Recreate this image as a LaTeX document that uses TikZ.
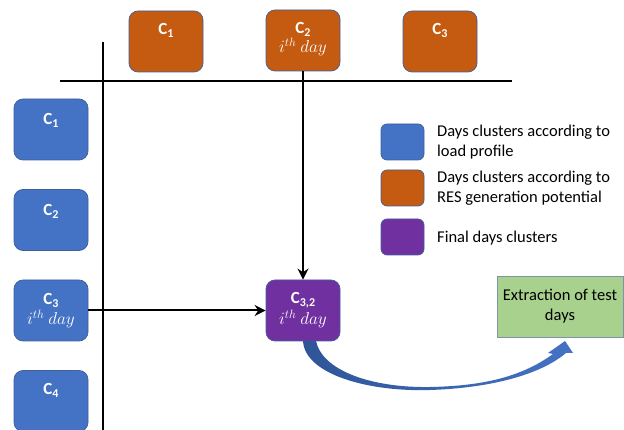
\documentclass[tikz,border=0pt]{standalone}
\usepackage{fontspec}
\setmainfont{Carlito}
\usetikzlibrary{arrows.meta}
\definecolor{cblue}{HTML}{4472C4}
\definecolor{corange}{HTML}{C55A11}
\definecolor{cpurple}{HTML}{7030A0}
\definecolor{cgreen}{HTML}{A9D18E}
\definecolor{cborder}{HTML}{41609A}
\definecolor{gborder}{HTML}{7F93A8}
\definecolor{dblue}{HTML}{2F5597}
\newcommand{\csub}[2]{#1\raisebox{-3pt}{\fontsize{12}{12}\selectfont #2}}
\tikzset{
  cl/.style={draw=cborder, line width=0.7pt, rounded corners=9pt, minimum width=74pt, minimum height=61pt, inner sep=0pt},
  bluebox/.style={cl, fill=cblue},
  orangebox/.style={cl, fill=corange},
  purplebox/.style={cl, fill=cpurple},
  legbox/.style={draw=cborder, line width=0.7pt, rounded corners=6pt, minimum width=43pt, minimum height=36pt, inner sep=0pt},
  lbl/.style={text=white, font=\fontsize{17}{18}\selectfont\bfseries, inner sep=0pt},
  ith/.style={text=white, font=\fontsize{17}{18}\selectfont, inner sep=0pt},
  legtxt/.style={anchor=west, align=left, font=\fontsize{16.5}{20}\selectfont, inner sep=0pt},
  axis/.style={line width=2.2pt, black},
  conn/.style={line width=2pt, black, -{Stealth[length=11pt,width=11pt]}}
}
\begin{document}
\begin{tikzpicture}[x=1pt,y=-1pt]
\useasboundingbox (0,0) rectangle (624,430);
% axes
\draw[axis] (60,81) -- (512,81);
\draw[axis] (103,42) -- (103,432);
% orange boxes
\node[orangebox] (o1) at (166,41.5) {};
\node[orangebox] (o2) at (303,40.5) {};
\node[orangebox] (o3) at (440,41.5) {};
\node[lbl] at (166,30) {\csub{C}{1}};
\node[lbl] at (303,29) {\csub{C}{2}};
\node[ith] at (303,47) {$i^{th}\ day$};
\node[lbl] at (440,30) {\csub{C}{3}};
% blue boxes
\node[bluebox] (b1) at (51,129.5) {};
\node[bluebox] (b2) at (51,220) {};
\node[bluebox] (b3) at (51,310.5) {};
\node[bluebox] (b4) at (51,401) {};
\node[lbl] at (51,120) {\csub{C}{1}};
\node[lbl] at (51,211) {\csub{C}{2}};
\node[lbl] at (51,300) {\csub{C}{3}};
\node[ith] at (51,319) {$i^{th}\ day$};
\node[lbl] at (51,390) {\csub{C}{4}};
% purple
\node[purplebox] (p) at (303,310.5) {};
\node[lbl] at (303,300) {\csub{C}{3,2}};
\node[ith] at (303,319) {$i^{th}\ day$};
% connectors
\draw[conn] (o2.south) -- (p.north);
\draw[conn] (b3.east) -- (p.west);
% green box
\node[draw=gborder, line width=0.9pt, fill=cgreen, minimum width=126pt, minimum height=61pt, inner sep=0pt,
      align=center, font=\fontsize{16.5}{20}\selectfont] (g) at (560,306.5) {Extraction of test\\days};
% curved ribbon arrow
\shade[left color=dblue, right color=cblue, draw=none]
  (303,341) .. controls (305,375) and (370,392) .. (430,390)
  .. controls (490,388) and (540,375) .. (566,353)
  -- (573,353) -- (565,341) -- (548,353) -- (553,354)
  .. controls (520,378) and (480,386) .. (430,387)
  .. controls (370,388) and (322,370) .. (316,341) -- cycle;
% legend
\node[legbox, fill=cblue] (l1) at (402.5,142) {};
\node[legbox, fill=corange] (l2) at (402.5,188) {};
\node[legbox, fill=cpurple] (l3) at (402.5,237) {};
\node[legtxt] at (437,142) {Days clusters according to\\load profile};
\node[legtxt] at (437,188) {Days clusters according to\\RES generation potential};
\node[legtxt] at (437,238) {Final days clusters};
\end{tikzpicture}
\end{document}
